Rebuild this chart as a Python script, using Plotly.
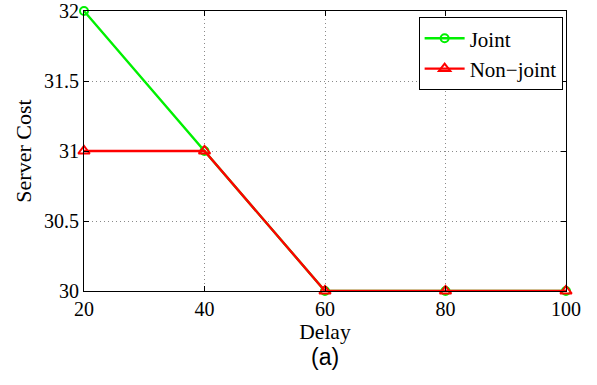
import plotly.graph_objects as go

delay = [20, 40, 60, 80, 100]
joint_cost = [32, 31, 30, 30, 30]
nonjoint_cost = [31, 31, 30, 30, 30]
x_ticks = [20, 40, 60, 80, 100]
y_ticks = [30, 30.5, 31, 31.5, 32]
y_tick_text = ["30", "30.5", "31", "31.5", "32"]

serif = "Liberation Serif"

fig = go.Figure()
fig.add_trace(go.Scatter(
    x=delay, y=joint_cost, name="Joint", mode="lines+markers",
    line=dict(color="#00f000", width=2.4),
    marker=dict(symbol="circle-open", size=8, color="#00f000", line=dict(width=2)),
    cliponaxis=False,
))
fig.add_trace(go.Scatter(
    x=delay, y=nonjoint_cost, name="Non\u2212joint", mode="lines+markers",
    line=dict(color="#ff0000", width=2.4),
    marker=dict(symbol="triangle-up-open", size=10, color="#ff0000", line=dict(width=2)),
    cliponaxis=False,
))

axis_common = dict(
    showline=True, linecolor="black", linewidth=1, mirror="allticks",
    ticks="inside", ticklen=5, tickcolor="black",
    showgrid=True, gridcolor="#8a8a8a", griddash="1px,3px", gridwidth=1,
    zeroline=False, automargin=False,
    tickfont=dict(family=serif, size=20, color="black"),
)

fig.update_xaxes(
    range=[20, 100], tickvals=x_ticks, ticklabelstandoff=0,
    title=dict(text="Delay", font=dict(family=serif, size=21.5, color="black"), standoff=0),
    **axis_common,
)
fig.update_yaxes(
    range=[30, 32], tickvals=y_ticks, ticktext=y_tick_text,
    title=dict(text="Server Cost", font=dict(family=serif, size=22, color="black"), standoff=6),
    **axis_common,
)

fig.add_annotation(
    text="(a)", x=0.5, y=-0.235, xref="paper", yref="paper",
    showarrow=False, yanchor="middle",
    font=dict(family="Liberation Sans", size=23, color="black"),
)

fig.update_layout(
    width=597, height=385,
    margin=dict(l=84, r=31, t=11, b=94),
    paper_bgcolor="white", plot_bgcolor="white",
    font=dict(family=serif, size=20, color="black"),
    showlegend=True,
    legend=dict(
        x=0.993, y=0.978, xanchor="right", yanchor="top",
        bgcolor="white", bordercolor="black", borderwidth=1,
        font=dict(family=serif, size=21, color="black"),
        tracegroupgap=0, itemwidth=40,
    ),
)

fig.write_html("out.html")
